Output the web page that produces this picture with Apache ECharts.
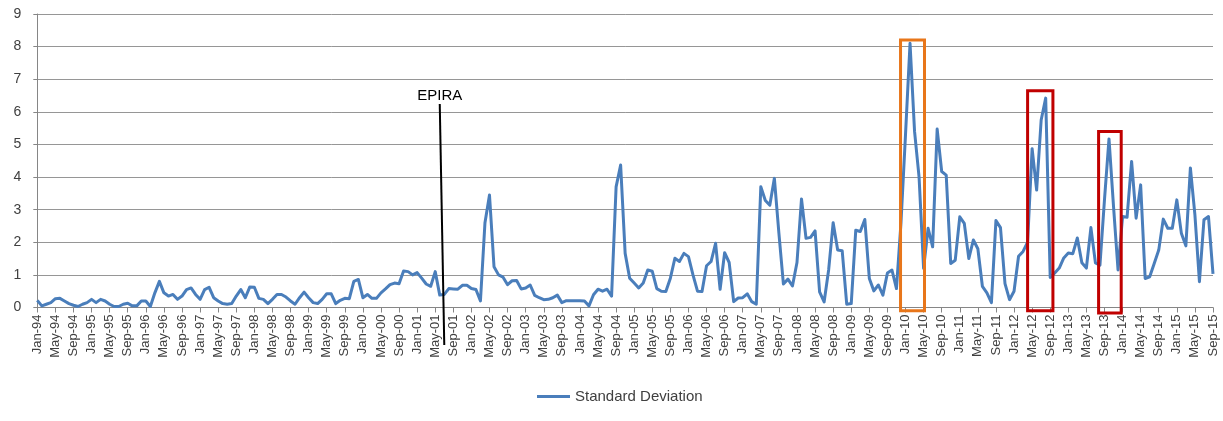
<!DOCTYPE html>
<html>
<head>
<meta charset="utf-8">
<script src="https://cdn.jsdelivr.net/npm/echarts@6/dist/echarts.min.js"></script>
<style>
html,body{margin:0;padding:0;background:#ffffff;}
#chart{width:1223px;height:421px;}
</style>
</head>
<body>
<div id="chart"></div>
<script>
// ---- categories (monthly, Jan-94 .. Sep-15) ----
const monthNames = ['Jan','Feb','Mar','Apr','May','Jun','Jul','Aug','Sep','Oct','Nov','Dec'];
const firstYear = 1994;
const lastYear = 2015;
const lastMonthOfLastYear = 9; // Sep
const categories = [];
for (let y = firstYear; y <= lastYear; y++) {
  const mMax = (y === lastYear) ? lastMonthOfLastYear : 12;
  for (let m = 0; m < mMax; m++) {
    categories.push(monthNames[m] + '-' + String(y % 100).padStart(2, '0'));
  }
}

// ---- series values: Standard Deviation ----
const sd1994_1997 = [
  0.22,0.05,0.10,0.15,0.27,0.28,0.20,0.12,0.07,0.03,0.10,0.15,
  0.25,0.15,0.25,0.20,0.10,0.03,0.03,0.10,0.13,0.05,0.05,0.20,
  0.20,0.03,0.45,0.80,0.45,0.35,0.40,0.25,0.35,0.55,0.60,0.40,
  0.25,0.55,0.62,0.30,0.20,0.12,0.10,0.12,0.35,0.55,0.30,0.63
];
const sd1998_2001 = [
  0.62,0.28,0.25,0.12,0.25,0.40,0.40,0.32,0.20,0.10,0.30,0.47,
  0.30,0.15,0.12,0.25,0.42,0.42,0.12,0.22,0.28,0.27,0.80,0.86,
  0.30,0.40,0.28,0.28,0.45,0.57,0.70,0.75,0.73,1.12,1.10,1.00,
  1.07,0.90,0.72,0.65,1.10,0.38,0.40,0.58,0.57,0.56,0.68,0.68
];
const sd2002_2005 = [
  0.58,0.55,0.20,2.60,3.45,1.25,1.00,0.93,0.70,0.82,0.83,0.57,
  0.60,0.69,0.37,0.30,0.24,0.25,0.30,0.38,0.15,0.21,0.21,0.21,
  0.21,0.20,0.05,0.39,0.56,0.50,0.56,0.35,3.70,4.37,1.66,0.90,
  0.75,0.60,0.75,1.15,1.11,0.58,0.50,0.49,0.90,1.51,1.41,1.66
];
const sd2006_2009 = [
  1.56,1.00,0.50,0.49,1.28,1.41,1.97,0.56,1.68,1.38,0.18,0.29,
  0.30,0.42,0.18,0.10,3.70,3.28,3.14,3.96,2.28,0.72,0.87,0.66,
  1.38,3.33,2.12,2.15,2.35,0.48,0.17,1.15,2.60,1.76,1.74,0.10,
  0.12,2.37,2.33,2.70,0.89,0.51,0.69,0.38,1.06,1.15,0.58,2.60
];
const sd2010_2013 = [
  5.30,8.10,5.40,4.00,1.20,2.43,1.86,5.47,4.17,4.06,1.35,1.45,
  2.78,2.58,1.50,2.07,1.80,0.65,0.45,0.15,2.67,2.45,0.73,0.24,
  0.50,1.57,1.72,2.00,4.87,3.60,5.75,6.42,0.92,1.06,1.21,1.52,
  1.67,1.65,2.13,1.37,1.21,2.45,1.37,1.30,3.30,5.17,3.10,1.15
];
const sd2014_2015 = [
  2.79,2.77,4.48,2.74,3.76,0.89,0.94,1.35,1.76,2.71,2.43,2.43,
  3.30,2.28,1.89,4.28,2.84,0.79,2.69,2.79,1.03
];
const stdDev = [].concat(sd1994_1997, sd1998_2001, sd2002_2005, sd2006_2009, sd2010_2013, sd2014_2015);

// ---- y-axis ticks ----
const yMin = 0, yMax = 9, yStep = 1;

// ---- annotations (in data coordinates: category index / value) ----
const boxes = [
  { from: 190.9, to: 196.2, top: 8.2, bottom: -0.1, color: '#E8761A' },
  { from: 219.0, to: 224.6, top: 6.65, bottom: -0.1, color: '#C00000' },
  { from: 234.7, to: 239.7, top: 5.4, bottom: -0.17, color: '#C00000' }
];
const epira = { label: 'EPIRA', fromIdx: 89.0, fromVal: 6.24, toIdx: 90.0, toVal: -1.15 };

const chart = echarts.init(document.getElementById('chart'), null, { renderer: 'canvas' });
const FONT = '"Liberation Sans", Arial, sans-serif';
const option = {
  animation: false,
  backgroundColor: '#ffffff',
  grid: { left: 37.3, right: 10, top: 14, bottom: 113.5, containLabel: false },
  legend: {
    data: ['Standard Deviation'],
    left: 537, top: 389,
    icon: 'rect', itemWidth: 33, itemHeight: 3, itemGap: 10, padding: 0,
    textStyle: { fontFamily: FONT, fontSize: 15, color: '#404040', padding: [0, 0, 0, 0] }
  },
  xAxis: {
    type: 'category',
    data: categories,
    boundaryGap: false,
    axisLine: { lineStyle: { color: '#868686', width: 1 } },
    axisTick: { show: true, interval: 3, length: 5, lineStyle: { color: '#868686' } },
    axisLabel: { interval: 3, rotate: 90, fontFamily: FONT, fontSize: 13, color: '#404040', margin: 7 },
    splitLine: { show: false }
  },
  yAxis: {
    type: 'value',
    min: yMin, max: yMax, interval: yStep,
    axisLine: { show: true, lineStyle: { color: '#868686', width: 1 } },
    axisTick: { show: true, length: 4, lineStyle: { color: '#868686' } },
    axisLabel: { fontFamily: FONT, fontSize: 14, color: '#404040', margin: 16 },
    splitLine: { show: true, lineStyle: { color: '#969696', width: 1 } }
  },
  series: [{
    name: 'Standard Deviation',
    type: 'line',
    data: stdDev,
    showSymbol: false,
    symbol: 'none',
    smooth: false,
    lineStyle: { color: '#4A7EBB', width: 3, join: 'round' },
    itemStyle: { color: '#4A7EBB' }
  }]
};
chart.setOption(option);

function toPx(idx, val) {
  const i0 = Math.floor(idx);
  const a = chart.convertToPixel({ xAxisIndex: 0 }, i0);
  const b = chart.convertToPixel({ xAxisIndex: 0 }, i0 + 1);
  const x = a + (b - a) * (idx - i0);
  const y = chart.convertToPixel({ yAxisIndex: 0 }, val);
  return [x, y];
}

const graphics = [];
boxes.forEach(function (bx) {
  const p1 = toPx(bx.from, bx.top);
  const p2 = toPx(bx.to, bx.bottom);
  graphics.push({
    type: 'rect', z: 100,
    shape: { x: p1[0], y: p1[1], width: p2[0] - p1[0], height: p2[1] - p1[1] },
    style: { fill: 'none', stroke: bx.color, lineWidth: 3 }
  });
});
const e1 = toPx(epira.fromIdx, epira.fromVal);
const e2 = toPx(epira.toIdx, epira.toVal);
graphics.push({
  type: 'line', z: 100,
  shape: { x1: e1[0], y1: e1[1], x2: e2[0], y2: e2[1] },
  style: { stroke: '#000000', lineWidth: 2 }
});
graphics.push({
  type: 'text', z: 100,
  x: e1[0], y: e1[1] - 1,
  style: { text: epira.label, fill: '#000000', font: '15px ' + FONT, textAlign: 'center', textVerticalAlign: 'bottom' }
});
chart.setOption({ graphic: graphics });
</script>
</body>
</html>
